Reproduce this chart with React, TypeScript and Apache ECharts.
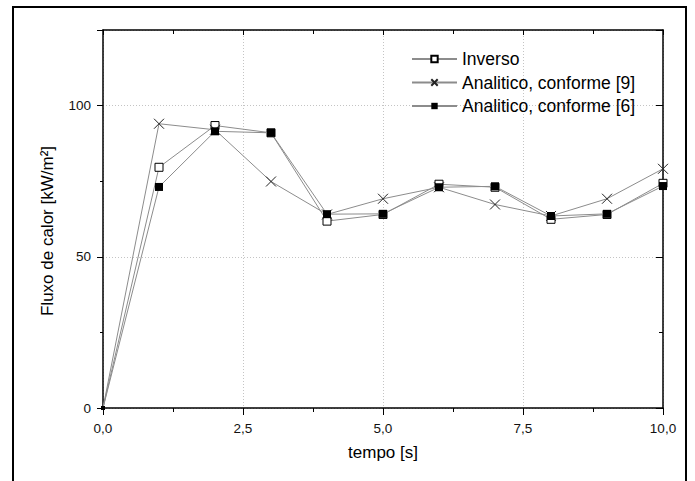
import React, { useEffect, useRef } from "react";
import * as echarts from "echarts";

const times = [0, 1, 2, 3, 4, 5, 6, 7, 8, 9, 10];
const inverso = [0, 79.6, 93.4, 91, 61.8, 64, 74, 73, 62.4, 64, 74.3];
const analitico9 = [0, 94, 92, 74.9, 64, 69.2, 73, 67.3, 63.5, 69.2, 79.1];
const analitico6 = [0, 73.1, 91.5, 91, 64.1, 64.2, 73, 73.3, 63.5, 64.2, 73.4];
const seriesNames = ["Inverso", "Analitico, conforme [9]", "Analitico, conforme [6]"];
const xTitle = "tempo [s]";
const yTitle = "Fluxo de calor [kW/m²]";

const FONT = "'Liberation Sans', Arial, sans-serif";
const X_PATH = "path://M0,0L10,10M10,0L0,10";

export default function App() {
  const ref = useRef<HTMLDivElement>(null);
  useEffect(() => {
    if (!ref.current) return;
    const chart = echarts.init(ref.current, undefined, { renderer: "svg" });
    const pairs = (vals: number[], originSize: number) =>
      times.map((t, i) =>
        i === 0 ? { value: [t, vals[i]], symbolSize: originSize } : [t, vals[i]]
      );
    const lineStyle = { color: "#8c8c8c", width: 1 };
    const common = {
      type: "line" as const,
      xAxisIndex: 0,
      yAxisIndex: 0,
      lineStyle,
      showAllSymbol: true,
    };
    chart.setOption({
      animation: false,
      backgroundColor: "#fff",
      textStyle: { fontFamily: FONT },
      grid: { left: 103, top: 30, right: 32, bottom: 73, outerBoundsMode: "none" },
      legend: {
        orient: "vertical",
        left: 406,
        top: 45,
        itemWidth: 45,
        itemHeight: 8,
        itemGap: 5.5,
        textStyle: { fontSize: 17.5, color: "#000", fontFamily: FONT },
        data: seriesNames,
      },
      xAxis: [
        {
          type: "value",
          position: "bottom",
          min: 0,
          max: 10,
          interval: 2.5,
          name: xTitle,
          nameLocation: "middle",
          nameGap: 36,
          nameTextStyle: { fontSize: 17, color: "#000", fontFamily: FONT },
          axisLine: { onZero: false, lineStyle: { color: "#000", width: 1.5 } },
          axisTick: { show: true, inside: false, length: 7, lineStyle: { color: "#000", width: 1 } },
          minorTick: { show: true, splitNumber: 2, length: 4, lineStyle: { color: "#000", width: 1 } },
          axisLabel: {
            margin: 13,
            fontSize: 13.5,
            color: "#111",
            fontFamily: FONT,
            formatter: (v: number) => v.toFixed(1).replace(".", ","),
          },
          splitLine: { show: true, lineStyle: { color: "#c4c4c4", type: [1, 2], width: 1 } },
        },
        {
          type: "value",
          position: "top",
          min: 0,
          max: 10,
          interval: 2.5,
          axisLine: { onZero: false, lineStyle: { color: "#000", width: 1.5 } },
          axisTick: { show: true, inside: true, length: 5, lineStyle: { color: "#000", width: 1 } },
          minorTick: { show: true, splitNumber: 2, length: 4, lineStyle: { color: "#000", width: 1 } },
          axisLabel: { show: false },
          splitLine: { show: false },
        },
      ],
      yAxis: [
        {
          type: "value",
          position: "left",
          min: 0,
          max: 125,
          interval: 50,
          axisLine: { onZero: false, lineStyle: { color: "#000", width: 1.5 } },
          axisTick: { show: true, inside: false, length: 6, lineStyle: { color: "#000", width: 1 } },
          axisLabel: {
            margin: 12,
            fontSize: 13.5,
            color: "#111",
            fontFamily: FONT,
            formatter: (v: number) => (v % 50 === 0 ? String(v) : ""),
          },
          splitLine: { show: true, lineStyle: { color: "#c4c4c4", type: [1, 2], width: 1 } },
        },
        {
          type: "value",
          position: "left",
          min: 0,
          max: 125,
          interval: 25,
          axisLine: { show: false, onZero: false },
          axisTick: { show: true, inside: false, length: 3, lineStyle: { color: "#000", width: 1 } },
          axisLabel: { show: false },
          splitLine: { show: false },
        },
        {
          type: "value",
          position: "right",
          min: 0,
          max: 125,
          interval: 50,
          axisLine: { show: true, onZero: false, lineStyle: { color: "#000", width: 1.5 } },
          axisTick: { show: true, inside: true, length: 7, lineStyle: { color: "#000", width: 1 } },
          axisLabel: { show: false },
          splitLine: { show: false },
        },
        {
          type: "value",
          position: "right",
          min: 0,
          max: 125,
          interval: 25,
          axisLine: { show: false, onZero: false },
          axisTick: { show: true, inside: true, length: 4, lineStyle: { color: "#000", width: 1 } },
          axisLabel: { show: false },
          splitLine: { show: false },
        },
      ],
      series: [
        {
          ...common,
          name: seriesNames[0],
          data: pairs(inverso, 0),
          symbol: "rect",
          symbolSize: 8,
          itemStyle: { color: "#fff", borderColor: "#000", borderWidth: 1 },
          z: 2,
        },
        {
          ...common,
          name: seriesNames[1],
          data: pairs(analitico9, 0),
          symbol: X_PATH,
          symbolSize: 10,
          itemStyle: { color: "#000", borderColor: "#222", borderWidth: 1 },
          z: 3,
        },
        {
          ...common,
          name: seriesNames[2],
          data: pairs(analitico6, 4),
          symbol: "rect",
          symbolSize: 8,
          itemStyle: { color: "#000", borderColor: "#000", borderWidth: 0 },
          z: 4,
        },
      ],
      graphic: [
        {
          type: "rect",
          shape: { x: 13, y: 7, width: 673, height: 500 },
          style: { fill: "none", stroke: "#000", lineWidth: 2 },
          silent: true,
        },
        {
          type: "text",
          x: 47,
          y: 231,
          rotation: Math.PI / 2,
          style: {
            text: yTitle,
            fontSize: 17,
            fontFamily: FONT,
            fill: "#000",
            align: "center",
            verticalAlign: "middle",
          },
          silent: true,
        },
      ],
    });
    return () => chart.dispose();
  }, []);
  return (
    <div
      ref={ref}
      style={{ position: "fixed", left: 0, top: 0, width: 695, height: 481 }}
    />
  );
}
